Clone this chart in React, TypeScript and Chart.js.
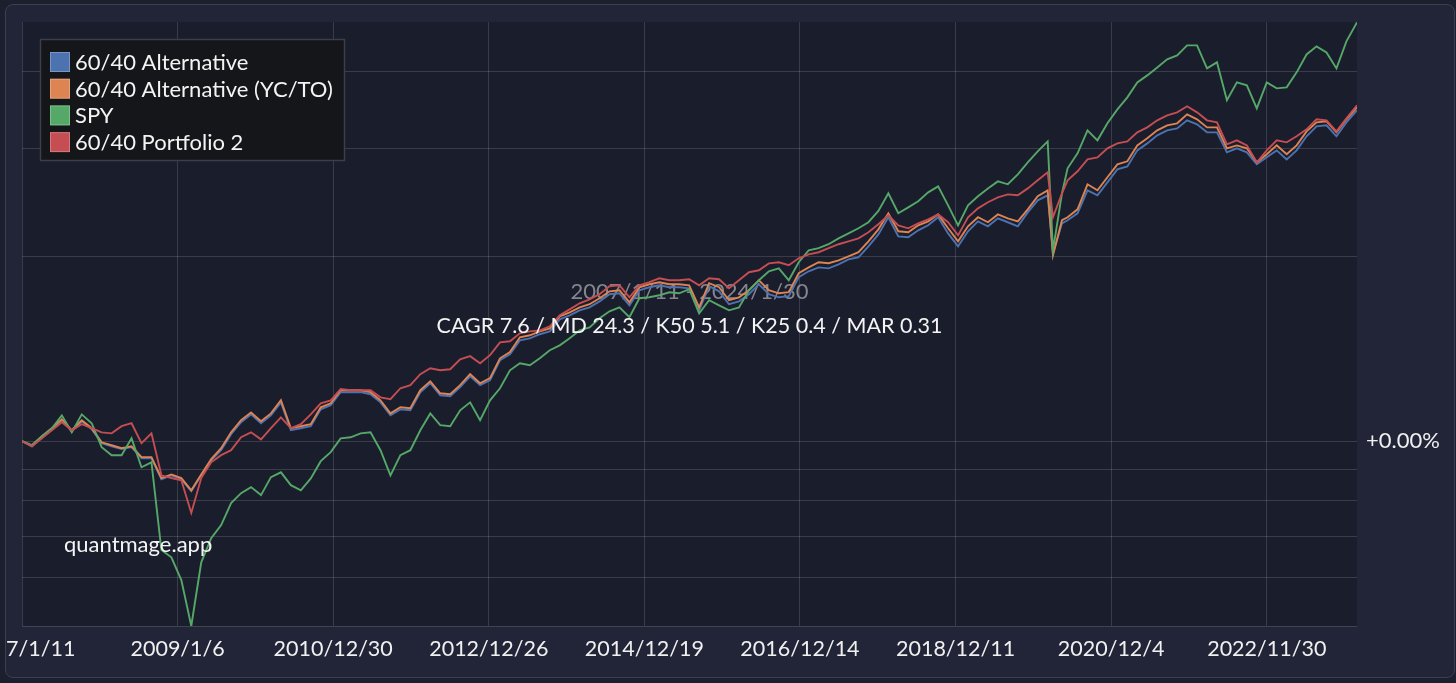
import { useEffect, useRef } from "react";
import { Chart, registerables } from "chart.js";

Chart.register(...registerables);

// trading-day index since 2007/1/11
const tradingDays = [
  0, 32, 64, 96, 128, 160, 192, 224, 256, 288,
  320, 352, 384, 416, 448, 480, 512, 544, 576, 608,
  640, 672, 704, 736, 768, 800, 832, 864, 896, 928,
  960, 992, 1024, 1056, 1088, 1120, 1152, 1184, 1216, 1248,
  1280, 1312, 1344, 1376, 1408, 1440, 1472, 1504, 1536, 1568,
  1600, 1632, 1664, 1696, 1728, 1760, 1792, 1824, 1856, 1888,
  1920, 1952, 1984, 2016, 2048, 2080, 2112, 2144, 2176, 2208,
  2240, 2272, 2304, 2336, 2368, 2400, 2432, 2464, 2496, 2528,
  2560, 2592, 2624, 2656, 2688, 2720, 2752, 2784, 2816, 2848,
  2880, 2912, 2944, 2976, 3008, 3040, 3072, 3104, 3136, 3168,
  3200, 3232, 3264, 3296, 3313, 3342,
  3360, 3392, 3424, 3456, 3488, 3520, 3552, 3584, 3616, 3648,
  3680, 3712, 3744, 3776, 3808, 3840, 3872, 3904, 3936, 3968,
  4000, 4032, 4064, 4096, 4128, 4160, 4192, 4224, 4256, 4290,
];

const alt6040 = [
  1.000, 0.981, 1.015, 1.046, 1.082, 1.038, 1.078, 1.046, 0.993, 0.981,
  0.971, 0.978, 0.938, 0.938, 0.867, 0.880, 0.867, 0.829, 0.880, 0.931,
  0.967, 1.027, 1.074, 1.106, 1.070, 1.102, 1.157, 1.042, 1.050, 1.058,
  1.127, 1.145, 1.202, 1.202, 1.202, 1.193, 1.157, 1.102, 1.127, 1.123,
  1.202, 1.243, 1.188, 1.184, 1.225, 1.276, 1.234, 1.257, 1.355, 1.386,
  1.460, 1.471, 1.494, 1.510, 1.580, 1.604, 1.634, 1.652, 1.690, 1.736,
  1.742, 1.665, 1.762, 1.782, 1.795, 1.782, 1.782, 1.775, 1.634, 1.789,
  1.755, 1.672, 1.690, 1.736, 1.802, 1.736, 1.716, 1.723, 1.850, 1.892,
  1.920, 1.913, 1.942, 1.978, 1.994, 2.078, 2.173, 2.317, 2.157, 2.149,
  2.206, 2.248, 2.317, 2.181, 2.078, 2.198, 2.282, 2.240, 2.308, 2.274,
  2.240, 2.360, 2.469, 2.516, 2.024, 2.265,
  2.291, 2.351, 2.563, 2.516, 2.641, 2.773, 2.804, 2.978, 3.057, 3.151,
  3.210, 3.234, 3.333, 3.283, 3.186, 3.186, 2.956, 3.001, 2.956, 2.826,
  2.901, 2.978, 2.879, 2.978, 3.139, 3.259, 3.271, 3.139, 3.308, 3.460,
];

const altYcTo = [
  1.000, 0.985, 1.019, 1.050, 1.086, 1.042, 1.082, 1.050, 0.996, 0.985,
  0.974, 0.981, 0.942, 0.942, 0.871, 0.883, 0.871, 0.832, 0.883, 0.935,
  0.974, 1.034, 1.082, 1.114, 1.078, 1.110, 1.166, 1.050, 1.058, 1.066,
  1.136, 1.153, 1.211, 1.211, 1.211, 1.202, 1.166, 1.110, 1.136, 1.132,
  1.211, 1.252, 1.197, 1.193, 1.234, 1.286, 1.243, 1.267, 1.365, 1.397,
  1.477, 1.488, 1.510, 1.527, 1.598, 1.622, 1.652, 1.672, 1.710, 1.755,
  1.762, 1.684, 1.782, 1.802, 1.816, 1.802, 1.802, 1.795, 1.652, 1.809,
  1.782, 1.697, 1.716, 1.762, 1.829, 1.762, 1.742, 1.749, 1.878, 1.920,
  1.957, 1.950, 1.971, 2.001, 2.032, 2.117, 2.214, 2.351, 2.198, 2.190,
  2.248, 2.282, 2.342, 2.223, 2.117, 2.240, 2.317, 2.274, 2.342, 2.308,
  2.282, 2.387, 2.507, 2.563, 2.009, 2.291,
  2.317, 2.387, 2.622, 2.563, 2.692, 2.826, 2.858, 3.034, 3.115, 3.210,
  3.271, 3.296, 3.409, 3.346, 3.246, 3.246, 3.001, 3.034, 3.001, 2.847,
  2.934, 3.034, 2.934, 3.034, 3.198, 3.308, 3.321, 3.186, 3.346, 3.500,
];

const spy = [
  1.000, 0.985, 1.019, 1.050, 1.102, 1.034, 1.106, 1.070, 0.978, 0.949,
  0.949, 1.011, 0.907, 0.924, 0.665, 0.647, 0.594, 0.500, 0.635, 0.695,
  0.730, 0.793, 0.823, 0.842, 0.817, 0.874, 0.890, 0.848, 0.832, 0.870,
  0.928, 0.960, 1.011, 1.015, 1.030, 1.034, 0.967, 0.880, 0.949, 0.967,
  1.042, 1.110, 1.062, 1.058, 1.123, 1.157, 1.082, 1.166, 1.220, 1.305,
  1.340, 1.330, 1.365, 1.407, 1.433, 1.471, 1.516, 1.533, 1.586, 1.628,
  1.652, 1.592, 1.710, 1.716, 1.729, 1.749, 1.742, 1.769, 1.616, 1.697,
  1.665, 1.634, 1.652, 1.762, 1.829, 1.892, 1.913, 1.829, 1.957, 2.047,
  2.063, 2.094, 2.141, 2.181, 2.223, 2.274, 2.373, 2.535, 2.352, 2.405,
  2.460, 2.544, 2.602, 2.423, 2.248, 2.423, 2.507, 2.582, 2.651, 2.622,
  2.722, 2.847, 2.967, 3.080, 2.047, 2.535,
  2.784, 2.945, 3.210, 3.092, 3.296, 3.473, 3.633, 3.843, 3.945, 4.065,
  4.190, 4.252, 4.416, 4.416, 4.050, 4.143, 3.593, 3.843, 3.800, 3.486,
  3.843, 3.758, 3.772, 3.990, 4.268, 4.399, 4.300, 4.050, 4.482, 4.814,
];

const portfolio2 = [
  1.000, 0.981, 1.011, 1.042, 1.074, 1.042, 1.066, 1.050, 1.034, 1.030,
  1.058, 1.070, 0.993, 1.030, 0.880, 0.871, 0.864, 0.764, 0.871, 0.924,
  0.949, 0.967, 1.015, 1.034, 1.007, 1.050, 1.094, 1.050, 1.066, 1.106,
  1.153, 1.166, 1.216, 1.211, 1.211, 1.211, 1.179, 1.171, 1.220, 1.234,
  1.286, 1.315, 1.305, 1.310, 1.360, 1.376, 1.340, 1.381, 1.449, 1.455,
  1.499, 1.510, 1.516, 1.539, 1.604, 1.640, 1.678, 1.703, 1.736, 1.789,
  1.795, 1.716, 1.795, 1.816, 1.843, 1.829, 1.829, 1.836, 1.795, 1.843,
  1.836, 1.775, 1.829, 1.885, 1.899, 1.949, 1.957, 1.935, 1.986, 2.016,
  2.032, 2.063, 2.094, 2.117, 2.141, 2.190, 2.257, 2.334, 2.248, 2.223,
  2.265, 2.299, 2.342, 2.274, 2.165, 2.317, 2.396, 2.451, 2.497, 2.525,
  2.516, 2.582, 2.661, 2.742, 2.317, 2.535,
  2.661, 2.753, 2.880, 2.901, 3.001, 3.057, 3.080, 3.186, 3.246, 3.333,
  3.396, 3.434, 3.513, 3.434, 3.333, 3.308, 3.046, 3.092, 3.034, 2.847,
  2.978, 3.092, 3.069, 3.139, 3.222, 3.346, 3.333, 3.198, 3.358, 3.526,
];

const seriesNames = ["60/40 Alternative", "60/40 Alternative (YC/TO)", "SPY", "60/40 Portfolio 2"];
const seriesColors = ["#4c72b0", "#dd8452", "#55a868", "#c44e52"];
const xTickDays = [0, 500, 1000, 1500, 2000, 2500, 3000, 3500, 4000];
const xTickLabels = ["2007/1/11", "2009/1/6", "2010/12/30", "2012/12/26", "2014/12/19", "2016/12/14", "2018/12/11", "2020/12/4", "2022/11/30"];
const yGridValues = [0.5, 0.6, 0.7, 0.8, 0.9, 1, 2, 3, 4];
const yLabelValue = 1;
const yLabelText = "+0.00%";
const dateRangeText = "2007/1/11 - 2024/1/30";
const statsText = "CAGR 7.6 / MD 24.3 / K50 5.1 / K25 0.4 / MAR 0.31";
const watermarkText = "quantmage.app";

const FONT = "Lato, 'Noto Sans', sans-serif";
const PLOT_BG = "#1a1d2c";
const GRID = "rgba(255,255,255,0.14)";
const CANVAS_W = 1448;
const CANVAS_H = 672;

export default function App() {
  const ref = useRef<HTMLCanvasElement>(null);

  useEffect(() => {
    const canvas = ref.current;
    if (!canvas) return;
    const series = [alt6040, altYcTo, spy, portfolio2];
    const orders = [3, 2, 1, 0];

    const decor = {
      id: "decor",
      beforeDraw(chart: any) {
        const { ctx, chartArea: a } = chart;
        ctx.save();
        ctx.fillStyle = PLOT_BG;
        ctx.fillRect(a.left, a.top, a.right - a.left, a.bottom - a.top);
        ctx.restore();
      },
      beforeDatasetsDraw(chart: any) {
        const { ctx, chartArea: a } = chart;
        const cx = (a.left + a.right) / 2;
        const cy = (a.top + a.bottom) / 2;
        ctx.save();
        ctx.font = `22px ${FONT}`;
        ctx.textAlign = "center";
        ctx.textBaseline = "middle";
        ctx.fillStyle = "#85878e";
        ctx.fillText(dateRangeText, cx, cy - 32);
        ctx.restore();
      },
      afterDatasetsDraw(chart: any) {
        const { ctx, chartArea: a } = chart;
        const cx = (a.left + a.right) / 2;
        const cy = (a.top + a.bottom) / 2;
        ctx.save();
        ctx.font = `21.5px ${FONT}`;
        ctx.textAlign = "center";
        ctx.textBaseline = "middle";
        ctx.fillStyle = "#f4f4f4";
        ctx.fillText(statsText, cx, cy + 2);
        ctx.font = `22px ${FONT}`;
        ctx.textAlign = "left";
        ctx.fillText(watermarkText, a.left + 42, a.bottom - 81);
        ctx.restore();
      },
      afterDraw(chart: any) {
        const { ctx, chartArea: a } = chart;
        const bx = a.left + 18;
        const by = a.top + 17;
        const bw = 305;
        const bh = 122;
        ctx.save();
        ctx.fillStyle = "#151619";
        ctx.fillRect(bx, by, bw, bh);
        ctx.strokeStyle = "#3c3f47";
        ctx.lineWidth = 1.5;
        ctx.strokeRect(bx + 0.5, by + 0.5, bw - 1, bh - 1);
        ctx.font = `22px ${FONT}`;
        ctx.textBaseline = "middle";
        ctx.textAlign = "left";
        seriesNames.forEach((name, i) => {
          const rowY = by + 23 + i * 26.7;
          ctx.fillStyle = seriesColors[i];
          ctx.fillRect(bx + 10, rowY - 10, 20, 20);
          ctx.strokeStyle = "rgba(255,255,255,0.25)";
          ctx.lineWidth = 1;
          ctx.strokeRect(bx + 10.5, rowY - 9.5, 19, 19);
          ctx.fillStyle = "#f4f4f4";
          ctx.fillText(name, bx + 35, rowY + 1);
        });
        ctx.restore();
      },
    };

    const chart = new Chart(canvas, {
      type: "line",
      data: {
        datasets: series.map((vals, i) => ({
          label: seriesNames[i],
          data: vals.map((v, j) => ({ x: tradingDays[j], y: v })),
          borderColor: seriesColors[i],
          backgroundColor: seriesColors[i],
          borderWidth: 1.9,
          pointRadius: 0,
          tension: 0,
          fill: false,
          order: orders[i],
        })),
      },
      options: {
        animation: false,
        responsive: false,
        devicePixelRatio: 1,
        layout: { padding: { left: 16, top: 17, right: 0, bottom: 0 } },
        plugins: { legend: { display: false }, tooltip: { enabled: false } },
        scales: {
          x: {
            type: "linear",
            bounds: "data",
            min: 0,
            max: 4290,
            border: { display: false },
            grid: { color: GRID, drawTicks: false, lineWidth: 1 },
            afterBuildTicks: (s: any) => {
              s.ticks = xTickDays.map((v) => ({ value: v }));
            },
            afterFit: (s: any) => {
              s.height = 51;
              s.paddingLeft = 0;
              s.paddingRight = 0;
            },
            ticks: {
              autoSkip: false,
              maxRotation: 0,
              minRotation: 0,
              padding: 10,
              color: "#f0f0f0",
              font: { family: FONT, size: 21.5 },
              callback: (_v: any, i: number) => xTickLabels[i],
            },
          },
          y: {
            type: "logarithmic",
            position: "right",
            bounds: "data",
            min: 0.5,
            max: 4.82,
            border: { display: false },
            grid: { color: GRID, drawTicks: false, lineWidth: 1 },
            afterBuildTicks: (s: any) => {
              s.ticks = yGridValues.map((v) => ({ value: v }));
            },
            afterFit: (s: any) => {
              s.width = 97;
              s.paddingTop = 0;
              s.paddingBottom = 0;
            },
            ticks: {
              autoSkip: false,
              padding: 9,
              color: "#f0f0f0",
              font: { family: FONT, size: 22 },
              callback: (v: any) => (Math.abs(Number(v) - yLabelValue) < 1e-9 ? yLabelText : ""),
            },
          },
        },
      },
      plugins: [decor],
    } as any);

    return () => chart.destroy();
  }, []);

  return (
    <div style={{ position: "fixed", left: 0, top: 0, width: 1456, height: 683, background: "#1b1f2e", overflow: "hidden" }}>
      <div
        style={{
          position: "absolute",
          left: 5,
          top: 4,
          width: 1450,
          height: 674,
          boxSizing: "border-box",
          border: "1px solid #3a3f51",
          borderRadius: 8,
          background: "#212537",
          overflow: "hidden",
        }}
      >
        <canvas ref={ref} width={CANVAS_W} height={CANVAS_H} style={{ position: "absolute", left: 0, top: 0, width: CANVAS_W, height: CANVAS_H }} />
      </div>
    </div>
  );
}
